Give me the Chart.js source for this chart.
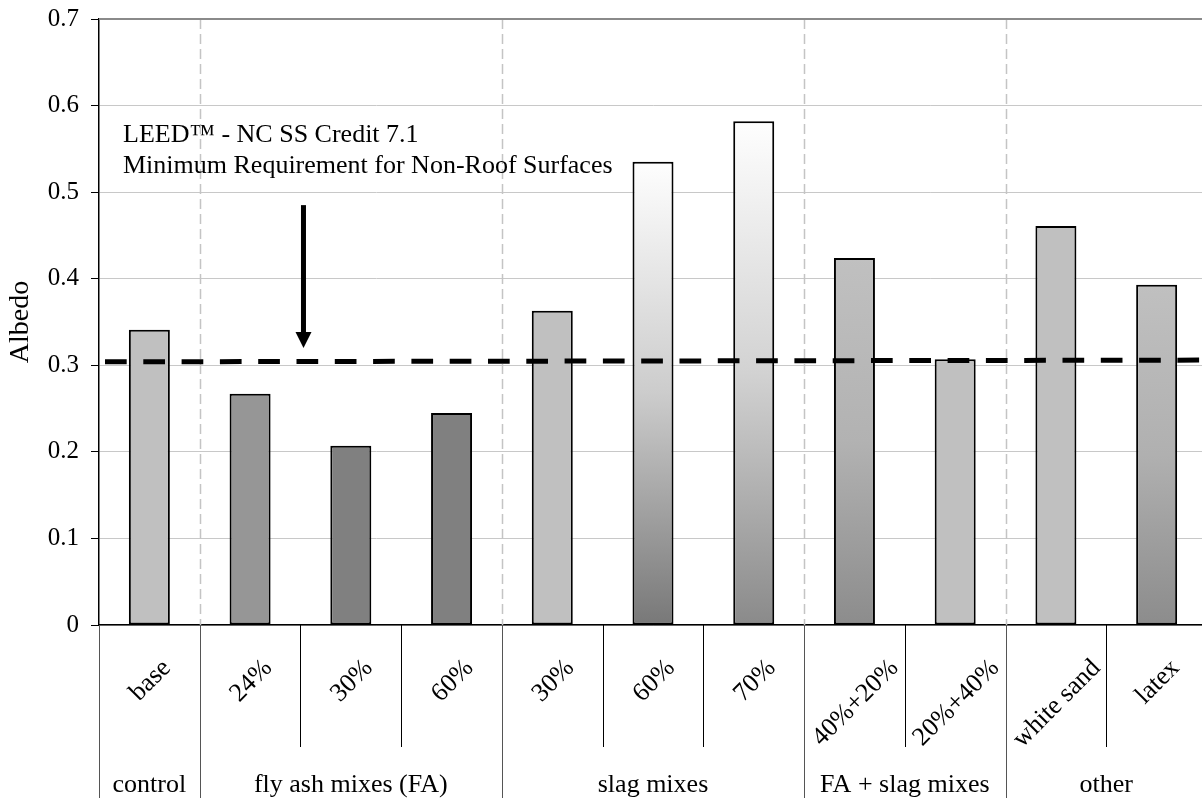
<!DOCTYPE html>
<html>
<head>
<meta charset="utf-8">
<title>Albedo of concrete mixes</title>
<script src="https://cdn.jsdelivr.net/npm/chart.js@4/dist/chart.umd.min.js"></script>
<style>
  html, body { margin: 0; padding: 0; background: #fff; overflow: hidden; }
  #wrap { width: 1202px; height: 798px; overflow: hidden; position: relative; }
  canvas { display: block; }
</style>
</head>
<body>
<div id="wrap"><canvas id="albedo" width="1208" height="798"></canvas></div>
<script>
// Mixes measured, in drawing order
const categories = ['base', '24%', '30%', '60%', '30%', '60%', '70%', '40%+20%', '20%+40%', 'white sand', 'latex'];
// Mix families shown under the labels, with how many mixes each one spans
const groups = ['control', 'fly ash mixes (FA)', 'slag mixes', 'FA + slag mixes', 'other'];
const groupSizes = [1, 3, 3, 2, 2];
// Measured albedo of each mix
const albedo = [0.341, 0.267, 0.207, 0.245, 0.363, 0.535, 0.582, 0.424, 0.307, 0.461, 0.393];
// Value axis ticks
const yTickValues = [0, 0.1, 0.2, 0.3, 0.4, 0.5, 0.6, 0.7];
const yTickLabels = ['0', '0.1', '0.2', '0.3', '0.4', '0.5', '0.6', '0.7'];
// LEED minimum requirement line (albedo at its left and right ends)
const leedMinimum = [0.304, 0.306];
// Arrow pointing at the requirement line: albedo at its tail and tip
const arrowSpan = [0.485, 0.32];

// Bar fills: colour at top, middle and bottom of each bar
const barTop    = ['#c0c0c0', '#969696', '#808080', '#808080', '#c0c0c0', '#fefefe', '#fefefe', '#c0c0c0', '#c0c0c0', '#c0c0c0', '#c0c0c0'];
const barMid    = ['#c0c0c0', '#969696', '#808080', '#808080', '#c0c0c0', '#cccccc', '#d2d2d2', '#b2b2b2', '#c0c0c0', '#c0c0c0', '#b0b0b0'];
const barBottom = ['#c0c0c0', '#969696', '#808080', '#808080', '#c0c0c0', '#787878', '#8a8a8a', '#8c8c8c', '#c0c0c0', '#c0c0c0', '#8c8c8c'];

const SERIF = "'Liberation Serif', 'Times New Roman', 'DejaVu Serif', serif";
const TEXT_SIZE = 26;
const noteLines = ['LEED\u2122 - NC SS Credit 7.1', 'Minimum Requirement for Non-Roof Surfaces'];

function barFill(ctx) {
  const chart = ctx.chart;
  const y = chart.scales.y;
  if (!y || !chart.chartArea) return barTop[ctx.dataIndex];
  const i = ctx.dataIndex;
  const top = y.getPixelForValue(albedo[i]);
  const bottom = y.getPixelForValue(0);
  const g = chart.ctx.createLinearGradient(0, top, 0, bottom);
  g.addColorStop(0, barTop[i]);
  g.addColorStop(0.5, barMid[i]);
  g.addColorStop(1, barBottom[i]);
  return g;
}

// Category boundaries (pixel x), from the category scale
function boundaries(xs) {
  const n = categories.length;
  const out = [xs.left];
  for (let i = 1; i < n; i++) {
    out.push((xs.getPixelForValue(i - 1) + xs.getPixelForValue(i)) / 2);
  }
  out.push(xs.right);
  return out;
}

function groupEdges() {
  const edges = [0];
  let k = 0;
  groupSizes.forEach(s => { k += s; edges.push(k); });
  return edges;
}

const decor = {
  id: 'decor',
  beforeDatasetsDraw(chart) {
    const { ctx, chartArea: a } = chart;
    const xs = chart.scales.x;
    const b = boundaries(xs);
    const edges = groupEdges();
    ctx.save();
    // dashed separators between mix families
    ctx.strokeStyle = '#c4c4c4';
    ctx.lineWidth = 1.5;
    ctx.setLineDash([10, 5]);
    edges.slice(1, -1).forEach(e => {
      const x = Math.round(b[e]) + 0.5;
      ctx.beginPath();
      ctx.moveTo(x, a.top);
      ctx.lineTo(x, a.bottom);
      ctx.stroke();
    });
    ctx.restore();
  },
  afterDatasetsDraw(chart) {
    const { ctx, chartArea: a } = chart;
    const xs = chart.scales.x, ys = chart.scales.y;
    const catW = xs.width / categories.length;
    ctx.save();

    // frame line along the top of the plot
    ctx.strokeStyle = '#8a8a8a';
    ctx.lineWidth = 2;
    ctx.beginPath();
    ctx.moveTo(a.left, a.top);
    ctx.lineTo(a.right, a.top);
    ctx.stroke();

    // LEED minimum requirement line
    const x0 = a.left + 6, x1 = a.right;
    ctx.strokeStyle = '#000';
    ctx.lineWidth = 5;
    ctx.lineCap = 'butt';
    ctx.setLineDash([21.7, 16.6]);
    ctx.beginPath();
    ctx.moveTo(x0, ys.getPixelForValue(leedMinimum[0]));
    ctx.lineTo(x1, ys.getPixelForValue(leedMinimum[1]));
    ctx.stroke();
    ctx.setLineDash([]);

    // arrow from the note down to the line
    const ax = xs.getPixelForValue(1) + 0.53 * catW;
    const yTail = ys.getPixelForValue(arrowSpan[0]);
    const yTip = ys.getPixelForValue(arrowSpan[1]);
    ctx.fillStyle = '#000';
    ctx.fillRect(ax - 2.5, yTail, 5, (yTip - 16) - yTail + 1);
    ctx.beginPath();
    ctx.moveTo(ax - 8, yTip - 16);
    ctx.lineTo(ax + 8, yTip - 16);
    ctx.lineTo(ax, yTip);
    ctx.closePath();
    ctx.fill();

    // note text
    ctx.font = TEXT_SIZE + 'px ' + SERIF;
    ctx.textAlign = 'left';
    ctx.textBaseline = 'alphabetic';
    ctx.fillStyle = '#000';
    ctx.fillText(noteLines[0], a.left + 24, ys.getPixelForValue(0.558));
    ctx.fillText(noteLines[1], a.left + 24, ys.getPixelForValue(0.5225));
    ctx.restore();
  },
  afterDraw(chart) {
    const { ctx, chartArea: a } = chart;
    const xs = chart.scales.x;
    const b = boundaries(xs);
    const edges = groupEdges();
    const H = chart.height;
    ctx.save();

    // separators in the label band
    b.forEach((x, i) => {
      const isGroup = edges.includes(i);
      ctx.strokeStyle = isGroup ? '#555' : '#000';
      ctx.lineWidth = 1;
      const px = Math.round(x) + 0.5;
      ctx.beginPath();
      ctx.moveTo(px, a.bottom);
      ctx.lineTo(px, isGroup ? H : a.bottom + 122);
      ctx.stroke();
    });

    // mix labels, rotated 45 degrees and hung from a common top line
    ctx.font = TEXT_SIZE + 'px ' + SERIF;
    ctx.fillStyle = '#000';
    ctx.textAlign = 'center';
    ctx.textBaseline = 'alphabetic';
    const capH = 17;
    const topY = a.bottom + 32;
    categories.forEach((lab, i) => {
      const w = ctx.measureText(lab).width;
      const cx = xs.getPixelForValue(i);
      const cy = topY + (w + capH) / (2 * Math.SQRT2);
      ctx.save();
      ctx.translate(cx, cy);
      ctx.rotate(-Math.PI / 4);
      ctx.fillText(lab, 0, capH / 2);
      ctx.restore();
    });

    // family labels centred under their mixes
    groups.forEach((g, k) => {
      const cx = (b[edges[k]] + b[edges[k + 1]]) / 2;
      ctx.fillText(g, cx, H - 6);
    });
    ctx.restore();
  }
};

new Chart(document.getElementById('albedo'), {
  type: 'bar',
  data: {
    labels: categories,
    datasets: [{
      label: 'Albedo',
      data: albedo,
      backgroundColor: barFill,
      borderColor: '#000',
      borderWidth: 2,
      borderSkipped: false,
      barPercentage: 0.407,
      categoryPercentage: 1
    }]
  },
  options: {
    responsive: false,
    animation: false,
    events: [],
    layout: { padding: { top: 19, right: 1, left: 0, bottom: 0 } },
    plugins: { legend: { display: false }, tooltip: { enabled: false } },
    scales: {
      x: {
        offset: true,
        grid: { display: false },
        ticks: { display: false },
        border: { display: true, color: '#000', width: 1.5 },
        afterFit(s) { s.height = 173; s.paddingLeft = 0; s.paddingRight = 0; }
      },
      y: {
        min: 0,
        max: 0.7,
        afterBuildTicks(s) { s.ticks = yTickValues.map(v => ({ value: v })); },
        ticks: {
          callback: (v) => yTickLabels[yTickValues.findIndex(t => Math.abs(t - v) < 1e-9)],
          font: { family: SERIF, size: 25 },
          color: '#000',
          padding: 12
        },
        grid: { color: '#c8c8c8', lineWidth: 1, tickColor: '#000', tickLength: 8 },
        border: { color: '#000', width: 1.5 },
        title: {
          display: true,
          text: 'Albedo',
          font: { family: SERIF, size: 28 },
          color: '#000',
          padding: { top: 4, bottom: 0 }
        },
        afterFit(s) { s.width = 99; s.paddingTop = 0; s.paddingBottom = 0; }
      }
    }
  },
  plugins: [decor]
});
</script>
</body>
</html>
